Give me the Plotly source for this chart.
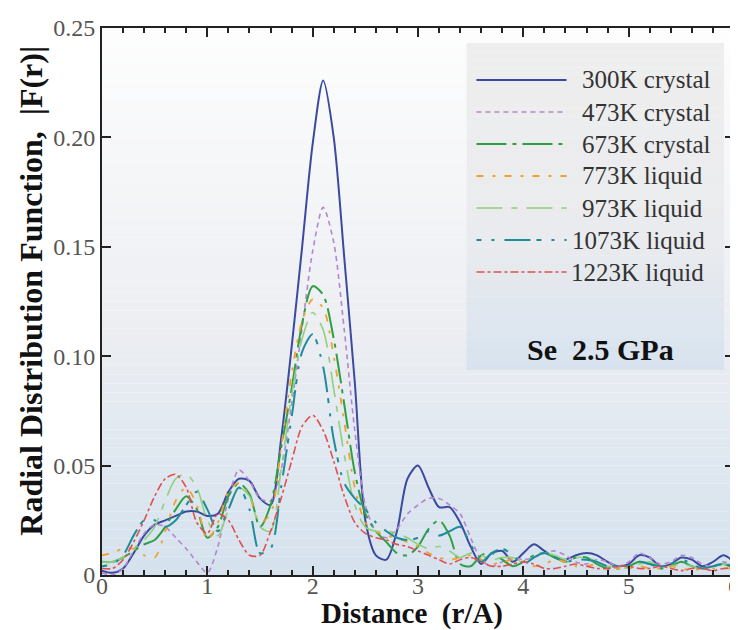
import plotly.graph_objects as go

# ---------------- data ----------------
r = [round(i * 0.1, 1) for i in range(61)]

labels = ["300K crystal", "473K crystal", "673K crystal", "773K liquid",
          "973K liquid", "1073K liquid", "1223K liquid"]

f300 = [0.002, 0.001, 0.003, 0.010, 0.018, 0.023, 0.025, 0.027, 0.029, 0.029,
        0.027, 0.028, 0.038, 0.044, 0.043, 0.035, 0.032, 0.062, 0.104, 0.150,
        0.197, 0.226, 0.200, 0.145, 0.088, 0.025, 0.009, 0.007, 0.020, 0.044,
        0.050, 0.040, 0.031, 0.031, 0.024, 0.013, 0.005, 0.010, 0.011, 0.006,
        0.010, 0.014, 0.011, 0.008, 0.007, 0.009, 0.010, 0.009, 0.006, 0.004,
        0.005, 0.009, 0.008, 0.004, 0.005, 0.008, 0.007, 0.004, 0.006, 0.009,
        0.006]
f473 = [0.001, 0.000, 0.003, 0.011, 0.019, 0.023, 0.022, 0.017, 0.012, 0.006,
        0.001, 0.013, 0.035, 0.048, 0.043, 0.035, 0.034, 0.048, 0.078, 0.113,
        0.148, 0.168, 0.152, 0.112, 0.066, 0.032, 0.020, 0.017, 0.021, 0.028,
        0.032, 0.035, 0.035, 0.032, 0.028, 0.017, 0.007, 0.004, 0.006, 0.008,
        0.007, 0.008, 0.010, 0.011, 0.009, 0.006, 0.005, 0.007, 0.006, 0.004,
        0.006, 0.010, 0.008, 0.005, 0.006, 0.009, 0.008, 0.005, 0.004, 0.006,
        0.004]
f673 = [0.006, 0.006, 0.008, 0.011, 0.014, 0.016, 0.022, 0.030, 0.036, 0.030,
        0.017, 0.022, 0.036, 0.042, 0.037, 0.022, 0.032, 0.058, 0.085, 0.115,
        0.132, 0.128, 0.108, 0.078, 0.047, 0.028, 0.020, 0.015, 0.010, 0.009,
        0.013, 0.021, 0.025, 0.018, 0.005, 0.004, 0.009, 0.010, 0.007, 0.004,
        0.006, 0.009, 0.010, 0.008, 0.006, 0.008, 0.008, 0.005, 0.003, 0.003,
        0.004, 0.006, 0.005, 0.003, 0.004, 0.006, 0.004, 0.003, 0.004, 0.005,
        0.003]
f773 = [0.009, 0.010, 0.012, 0.012, 0.009, 0.008, 0.020, 0.034, 0.040, 0.032,
        0.016, 0.024, 0.038, 0.042, 0.036, 0.024, 0.028, 0.058, 0.092, 0.116,
        0.126, 0.122, 0.100, 0.070, 0.040, 0.024, 0.020, 0.018, 0.017, 0.015,
        0.013, 0.010, 0.008, 0.007, 0.008, 0.009, 0.007, 0.005, 0.006, 0.007,
        0.006, 0.004, 0.005, 0.007, 0.006, 0.004, 0.004, 0.005, 0.004, 0.003,
        0.003, 0.004, 0.003, 0.003, 0.004, 0.003, 0.002, 0.003, 0.003, 0.003,
        0.003]
f973 = [0.006, 0.006, 0.008, 0.012, 0.016, 0.022, 0.034, 0.044, 0.046, 0.040,
        0.025, 0.018, 0.030, 0.040, 0.036, 0.022, 0.020, 0.048, 0.082, 0.108,
        0.120, 0.112, 0.085, 0.055, 0.032, 0.022, 0.020, 0.020, 0.019, 0.017,
        0.014, 0.012, 0.013, 0.011, 0.008, 0.010, 0.009, 0.007, 0.008, 0.008,
        0.006, 0.008, 0.010, 0.009, 0.007, 0.008, 0.008, 0.006, 0.004, 0.004,
        0.003, 0.005, 0.006, 0.004, 0.004, 0.005, 0.004, 0.003, 0.004, 0.005,
        0.004]
f1073 = [0.004, 0.005, 0.009, 0.018, 0.025, 0.025, 0.022, 0.025, 0.032, 0.038,
         0.030, 0.020, 0.030, 0.040, 0.030, 0.010, 0.012, 0.040, 0.072, 0.102,
         0.110, 0.095, 0.062, 0.042, 0.035, 0.030, 0.024, 0.020, 0.017, 0.016,
         0.017, 0.020, 0.018, 0.020, 0.022, 0.014, 0.006, 0.010, 0.012, 0.009,
         0.005, 0.008, 0.010, 0.008, 0.006, 0.007, 0.007, 0.006, 0.004, 0.004,
         0.004, 0.006, 0.005, 0.004, 0.005, 0.007, 0.005, 0.003, 0.004, 0.005,
         0.004]
f1223 = [0.003, 0.003, 0.007, 0.015, 0.025, 0.036, 0.044, 0.046, 0.040, 0.024,
         0.019, 0.028, 0.025, 0.016, 0.009, 0.009, 0.020, 0.035, 0.052, 0.068,
         0.073, 0.066, 0.052, 0.036, 0.024, 0.019, 0.017, 0.016, 0.014, 0.013,
         0.011, 0.009, 0.007, 0.005, 0.007, 0.008, 0.006, 0.004, 0.004, 0.005,
         0.006, 0.005, 0.003, 0.003, 0.004, 0.005, 0.004, 0.003, 0.003, 0.004,
         0.004, 0.003, 0.003, 0.004, 0.003, 0.002, 0.003, 0.003, 0.002, 0.003,
         0.003]

series = [f300, f473, f673, f773, f973, f1073, f1223]

x_ticks = [0, 1, 2, 3, 4, 5, 6]
x_ticktext = ["0", "1", "2", "3", "4", "5", "6"]
y_ticks = [0, 0.05, 0.10, 0.15, 0.20, 0.25]
y_ticktext = ["0", "0.05", "0.10", "0.15", "0.20", "0.25"]

# ---------------- styles ----------------
colors = ["#3b4a9e", "#b585cf", "#2f9f45", "#f0a030", "#8fd07c", "#1f8c9c", "#e0504f"]
dashes = ["solid", "5px,4px", "30px,6px,4px,6px", "7px,9px,3px,9px",
          "26px,9px,6px,9px", "5px,10px,3px,10px,26px,6px", "8px,3px,3px,3px"]
widths = [2.0, 1.6, 2.0, 1.8, 1.6, 2.0, 1.6]

SERIF = "Liberation Serif"

L, R, T, B = 94, 6, 20, 63
W, H = 738, 630
PW, PH = W - L - R, H - T - B

fig = go.Figure()
for y, c, d, w, name in zip(series, colors, dashes, widths, labels):
    fig.add_trace(go.Scatter(x=r, y=y, mode="lines", name=name,
                             line=dict(color=c, dash=d, width=w, shape="spline", smoothing=0.8),
                             showlegend=False))

def lerp(c1, c2, t):
    a = [int(c1[i:i + 2], 16) for i in (1, 3, 5)]
    b = [int(c2[i:i + 2], 16) for i in (1, 3, 5)]
    return "#%02x%02x%02x" % tuple(round(a[k] + (b[k] - a[k]) * t) for k in range(3))

def px2x(px):
    return (px - L) / float(PW)

def py2y(py):
    return (H - B - py) / float(PH)

shapes = []
# plot background gradient (white at top -> light blue at bottom)
N = 60
for i in range(N):
    t = i / (N - 1)
    col = lerp("#fdfdfd", "#eceef2", t / 0.55) if t < 0.55 else lerp("#eceef2", "#d5e2ee", (t - 0.55) / 0.45)
    shapes.append(dict(type="rect", xref="paper", yref="paper", layer="below",
                       x0=0, x1=1, y0=1 - (i + 1) / N, y1=1 - i / N,
                       fillcolor=col, line=dict(width=0)))

# legend box gradient
box_top, box_bot = 35, 362
M = 40
for i in range(M):
    t = i / (M - 1)
    col = lerp("#eeeeee", "#eaebee", t / 0.6) if t < 0.6 else lerp("#eaebee", "#d8e3ef", (t - 0.6) / 0.4)
    y1 = box_top + (box_bot - box_top) * i / M
    y0 = box_top + (box_bot - box_top) * (i + 1) / M
    shapes.append(dict(type="rect", xref="paper", yref="paper", layer="below",
                       x0=px2x(462), x1=px2x(722), y0=py2y(y0), y1=py2y(y1),
                       fillcolor=col, line=dict(width=0)))

annotations = []
row_y = [72, 104, 136, 168, 200, 232, 264]
text_x = [577, 577, 577, 577, 577, 566, 565]
for i in range(7):
    shapes.append(dict(type="line", xref="paper", yref="paper", layer="above",
                       x0=px2x(472), x1=px2x(563), y0=py2y(row_y[i]), y1=py2y(row_y[i]),
                       line=dict(color=colors[i], dash=dashes[i], width=widths[i])))
    annotations.append(dict(xref="paper", yref="paper", x=px2x(text_x[i]), y=py2y(row_y[i]),
                            text=labels[i], showarrow=False, xanchor="left", yanchor="middle",
                            font=dict(family=SERIF, size=25, color="#333333")))

annotations.append(dict(xref="paper", yref="paper", x=px2x(597), y=py2y(341),
                        text="<b>Se&nbsp;&nbsp;2.5 GPa</b>", showarrow=False, xanchor="center",
                        yanchor="middle", font=dict(family=SERIF, size=30, color="#111111")))
annotations.append(dict(xref="paper", yref="paper", x=px2x(407), y=py2y(605),
                        text="<b>Distance&nbsp;&nbsp;(r/A)</b>", showarrow=False, xanchor="center",
                        yanchor="middle", font=dict(family=SERIF, size=29, color="#111111")))
annotations.append(dict(xref="paper", yref="paper", x=px2x(22), y=py2y(283),
                        text="<b>Radial Distribution Function,&nbsp;&nbsp;|F(r)|</b>", showarrow=False,
                        xanchor="center", yanchor="middle", textangle=-90,
                        font=dict(family=SERIF, size=32, color="#111111")))

fig.update_layout(
    width=W, height=H,
    margin=dict(l=L, r=R, t=T, b=B),
    paper_bgcolor="white", plot_bgcolor="rgba(0,0,0,0)",
    shapes=shapes, annotations=annotations,
    showlegend=False,
    font=dict(family=SERIF),
)
fig.update_xaxes(range=[0, 6], tickvals=x_ticks, ticktext=x_ticktext,
                 showgrid=False, zeroline=False,
                 showline=True, linecolor="#222222", linewidth=2, mirror="ticks",
                 ticks="inside", ticklen=9, tickwidth=2, tickcolor="#222222",
                 ticklabeloverflow="allow", ticklabelstandoff=-12,
                 tickfont=dict(family=SERIF, size=24, color="#555555"),
                 minor=dict(dtick=0.2, ticks="inside", ticklen=5, tickwidth=2,
                            tickcolor="#222222", showgrid=False))
fig.update_yaxes(range=[0, 0.25], tickvals=y_ticks, ticktext=y_ticktext,
                 showgrid=False, zeroline=False,
                 showline=True, linecolor="#222222", linewidth=2, mirror="ticks",
                 ticks="inside", ticklen=9, tickwidth=2, tickcolor="#222222",
                 ticklabeloverflow="allow",
                 tickfont=dict(family=SERIF, size=24, color="#555555"))

fig.write_html("out.html")
